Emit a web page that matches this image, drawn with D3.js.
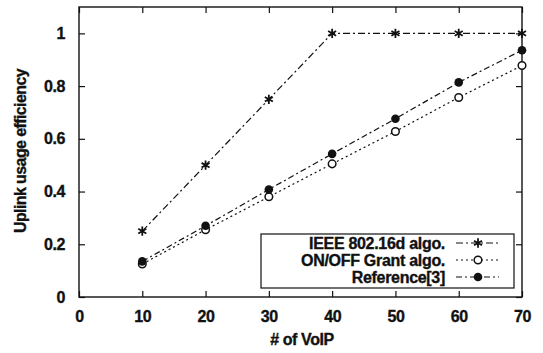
<!DOCTYPE html>
<html>
<head>
<meta charset="utf-8">
<script src="https://cdn.jsdelivr.net/npm/d3@7"></script>
<style>
  body { margin: 0; background: #fff; }
  text { font-family: "Liberation Sans", Arial, sans-serif; font-weight: bold; fill: #111; stroke: #111; stroke-width: 0.35px; }
</style>
</head>
<body>
<div id="chart"></div>
<script>
// Data
const voipCounts = [10, 20, 30, 40, 50, 60, 70];
const ieeeValues = [0.25, 0.5, 0.75, 1.0, 1.0, 1.0, 1.0];
const onOffValues = [0.125, 0.255, 0.38, 0.505, 0.628, 0.757, 0.878];
const refValues = [0.135, 0.27, 0.408, 0.543, 0.676, 0.814, 0.936];
const xTicks = [0, 10, 20, 30, 40, 50, 60, 70];
const yTicks = [0, 0.2, 0.4, 0.6, 0.8, 1];
const seriesNames = ["IEEE 802.16d algo.", "ON/OFF Grant algo.", "Reference[3]"];

const width = 543, height = 353;
const margin = { top: 7, right: 21, bottom: 56, left: 79 };
const w = width - margin.left - margin.right;
const h = height - margin.top - margin.bottom;

const svg = d3.select('#chart').append('svg')
  .attr('width', width).attr('height', height);
const g = svg.append('g').attr('transform', `translate(${margin.left},${margin.top})`);

const x = d3.scaleLinear().domain([0, 70]).range([0, w]);
const y = d3.scaleLinear().domain([0, 1.1]).range([h, 0]);

//Axes with inward ticks, mirrored on top and right
const fmtY = d => d === 0 || d === 1 ? d3.format('d')(d) : d3.format('.1f')(d);
g.append('g').attr('transform', `translate(0,${h})`)
  .call(d3.axisBottom(x).tickValues(xTicks).tickSizeInner(-6).tickSizeOuter(0).tickPadding(14));
g.append('g')
  .call(d3.axisLeft(y).tickValues(yTicks).tickFormat(fmtY).tickSizeInner(-6).tickSizeOuter(0).tickPadding(14));
g.append('g')
  .call(d3.axisTop(x).tickValues(xTicks).tickSizeInner(-6).tickSizeOuter(0).tickFormat(''));
g.append('g').attr('transform', `translate(${w},0)`)
  .call(d3.axisRight(y).tickValues(yTicks).tickSizeInner(-6).tickSizeOuter(0).tickFormat(''));
g.selectAll('.domain').remove();
g.selectAll('.tick line').attr('stroke', '#111').attr('stroke-width', 1.2);
g.selectAll('.tick text').style('font-size', '16px').attr('fill', '#111').style('letter-spacing', '-0.4px');

//Frame
g.append('rect').attr('width', w).attr('height', h)
  .attr('fill', 'none').attr('stroke', '#111').attr('stroke-width', 1.4);

//Axis titles
svg.append('text')
  .attr('transform', `translate(26,${margin.top + 144}) rotate(-90)`)
  .attr('text-anchor', 'middle').style('font-size', '16px').style('letter-spacing', '-0.6px')
  .text('Uplink usage efficiency');
svg.append('text')
  .attr('x', 302).attr('y', 345)
  .attr('text-anchor', 'middle').style('font-size', '16px').style('letter-spacing', '-0.4px')
  .text('# of VoIP');

//Marker drawing
const star = d3.symbol().type(d3.symbolAsterisk).size(60);
function drawMarker(sel, kind) {
  if (kind === 0) {
    sel.append('path').attr('d', star).attr('fill', 'none').attr('stroke', '#111').attr('stroke-width', 1.8);
  } else if (kind === 1) {
    sel.append('circle').attr('r', 3.8).attr('fill', '#fff').attr('stroke', '#111').attr('stroke-width', 1.5);
  } else {
    sel.append('circle').attr('r', 4.3).attr('fill', '#111');
  }
}

const series = [ieeeValues, onOffValues, refValues];
const dashes = ['7,3,2,3', '2,3', '6,3,2,3'];
const line = d3.line().x((d, i) => x(voipCounts[i])).y(d => y(d));

series.forEach((vals, k) => {
  g.append('path').datum(vals)
    .attr('fill', 'none').attr('stroke', '#111').attr('stroke-width', 1.2)
    .attr('stroke-dasharray', dashes[k])
    .attr('d', line);
  vals.forEach((v, i) => {
    const m = g.append('g').attr('transform', `translate(${x(voipCounts[i])},${y(v)})`);
    drawMarker(m, k);
  });
});

//Legend
const legend = svg.append('g');
legend.append('rect')
  .attr('x', 261).attr('y', 234).attr('width', 253).attr('height', 54)
  .attr('fill', '#fff').attr('stroke', '#111').attr('stroke-width', 1.2);
seriesNames.forEach((name, k) => {
  const ly = 243 + k * 17;
  legend.append('text')
    .attr('x', 445).attr('y', ly + 6)
    .attr('text-anchor', 'end').style('font-size', '16px').style('letter-spacing', '-0.3px')
    .text(name);
  legend.append('line')
    .attr('x1', 456).attr('x2', 499).attr('y1', ly).attr('y2', ly)
    .attr('stroke', '#111').attr('stroke-width', 1.2).attr('stroke-dasharray', dashes[k]);
  drawMarker(legend.append('g').attr('transform', `translate(478,${ly})`), k);
});
</script>
</body>
</html>
